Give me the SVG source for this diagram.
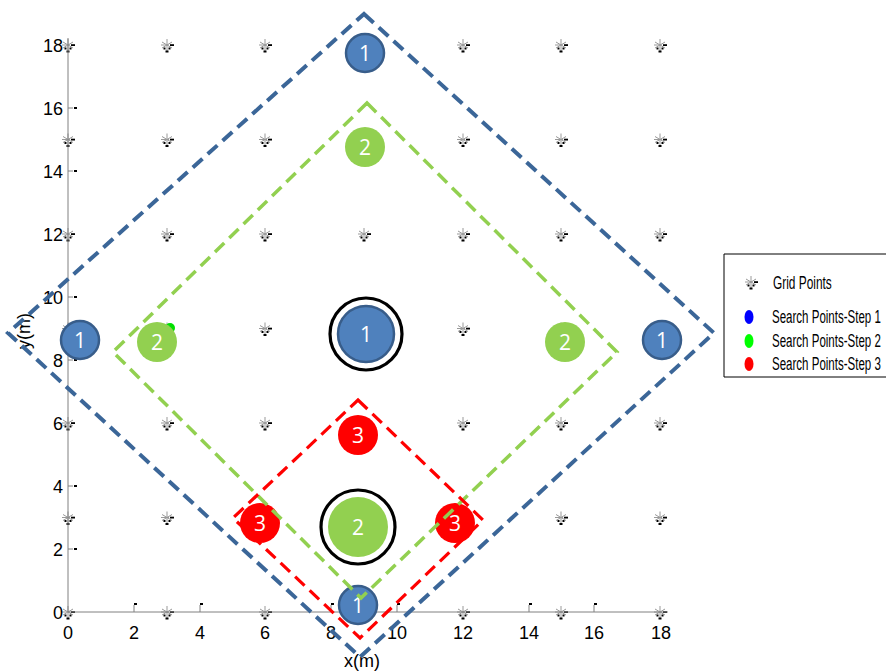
<svg xmlns="http://www.w3.org/2000/svg" xmlns:xlink="http://www.w3.org/1999/xlink" width="886" height="671" viewBox="0 0 886 671">
<style>
.ax{stroke:#808080;stroke-width:1;fill:none}
.tk{font-family:"Liberation Sans",Arial,sans-serif;font-size:18px;fill:#000}
.lg{font-family:"Liberation Sans",Arial,sans-serif;font-size:18px;fill:#000}
.lbl{font-family:"Open Sans","Liberation Sans",sans-serif;font-size:21px;fill:#fff;text-anchor:middle}
.s1{fill:#4f81bd;stroke:#385d8a;stroke-width:2.5}
.s2{fill:#92d050}
.s3{fill:#ff0000}
.ring{fill:none;stroke:#000;stroke-width:3.2}
.d1{fill:none;stroke:#3b6698;stroke-width:4;stroke-dasharray:13 7}
.d2{fill:none;stroke:#92d050;stroke-width:3.5;stroke-dasharray:13 7}
.d3{fill:none;stroke:#ff0000;stroke-width:3.2;stroke-dasharray:13 7}
</style>
<defs>
<g id="gp">
<path d="M0,-6V6M-5,-3L5,3M-5,3L5,-3M-6,0H2" stroke="#999" stroke-width="1" fill="none"/>
<rect x="3" y="-0.8" width="4" height="1.8" fill="#000"/>
<rect x="-3.5" y="2.5" width="2" height="2" fill="#000"/>
<rect x="1.5" y="2.5" width="2" height="2" fill="#000"/>
<rect x="-1.5" y="5.5" width="3" height="2" fill="#000"/>
</g>
</defs>
<rect width="886" height="671" fill="#fff"/>
<g id="grid">
<use xlink:href="#gp" x="68" y="612"/><use xlink:href="#gp" x="167" y="612"/><use xlink:href="#gp" x="265" y="612"/><use xlink:href="#gp" x="364" y="612"/><use xlink:href="#gp" x="463" y="612"/><use xlink:href="#gp" x="561" y="612"/><use xlink:href="#gp" x="660" y="612"/>
<use xlink:href="#gp" x="68" y="517.5"/><use xlink:href="#gp" x="167" y="517.5"/><use xlink:href="#gp" x="265" y="517.5"/><use xlink:href="#gp" x="364" y="517.5"/><use xlink:href="#gp" x="463" y="517.5"/><use xlink:href="#gp" x="561" y="517.5"/><use xlink:href="#gp" x="660" y="517.5"/>
<use xlink:href="#gp" x="68" y="423"/><use xlink:href="#gp" x="167" y="423"/><use xlink:href="#gp" x="265" y="423"/><use xlink:href="#gp" x="364" y="423"/><use xlink:href="#gp" x="463" y="423"/><use xlink:href="#gp" x="561" y="423"/><use xlink:href="#gp" x="660" y="423"/>
<use xlink:href="#gp" x="68" y="328.5"/><use xlink:href="#gp" x="167" y="328.5"/><use xlink:href="#gp" x="265" y="328.5"/><use xlink:href="#gp" x="364" y="328.5"/><use xlink:href="#gp" x="463" y="328.5"/><use xlink:href="#gp" x="561" y="328.5"/><use xlink:href="#gp" x="660" y="328.5"/>
<use xlink:href="#gp" x="68" y="234"/><use xlink:href="#gp" x="167" y="234"/><use xlink:href="#gp" x="265" y="234"/><use xlink:href="#gp" x="364" y="234"/><use xlink:href="#gp" x="463" y="234"/><use xlink:href="#gp" x="561" y="234"/><use xlink:href="#gp" x="660" y="234"/>
<use xlink:href="#gp" x="68" y="139.5"/><use xlink:href="#gp" x="167" y="139.5"/><use xlink:href="#gp" x="265" y="139.5"/><use xlink:href="#gp" x="364" y="139.5"/><use xlink:href="#gp" x="463" y="139.5"/><use xlink:href="#gp" x="561" y="139.5"/><use xlink:href="#gp" x="660" y="139.5"/>
<use xlink:href="#gp" x="68" y="45"/><use xlink:href="#gp" x="167" y="45"/><use xlink:href="#gp" x="265" y="45"/><use xlink:href="#gp" x="364" y="45"/><use xlink:href="#gp" x="463" y="45"/><use xlink:href="#gp" x="561" y="45"/><use xlink:href="#gp" x="660" y="45"/>
</g>
<g id="axes">
<path class="ax" d="M68,38V612H668"/>
<path class="ax" d="M68,549H73M68,486H73M68,360H73M68,297H73M68,171H73M68,108H73"/>
<g fill="#000"><rect x="74" y="548" width="3" height="2"/><rect x="74" y="485" width="3" height="2"/><rect x="74" y="359" width="3" height="2"/><rect x="74" y="296" width="3" height="2"/><rect x="74" y="170" width="3" height="2"/><rect x="74" y="107" width="3" height="2"/></g>
<path class="ax" d="M134,612V605M200,612V605M331,612V605M397,612V605M529,612V605M594,612V605"/>
<g fill="#000"><rect x="134" y="603" width="3" height="2"/><rect x="200" y="603" width="3" height="2"/><rect x="331" y="603" width="3" height="2"/><rect x="397" y="603" width="3" height="2"/><rect x="529" y="603" width="3" height="2"/><rect x="594" y="603" width="3" height="2"/></g>
<g class="tk" text-anchor="end">
<text x="63" y="52">18</text><text x="63" y="115">16</text><text x="63" y="178">14</text><text x="63" y="241">12</text><text x="63" y="304">10</text><text x="63" y="367">8</text><text x="63" y="430">6</text><text x="63" y="493">4</text><text x="63" y="556">2</text><text x="63" y="619">0</text>
</g>
<g class="tk" text-anchor="middle">
<text x="68" y="639">0</text><text x="134" y="639">2</text><text x="200" y="639">4</text><text x="265" y="639">6</text><text x="331" y="639">8</text><text x="397" y="639">10</text><text x="463" y="639">12</text><text x="529" y="639">14</text><text x="594" y="639">16</text><text x="661" y="639">18</text>
</g>
<text class="tk" x="362" y="667" text-anchor="middle">x(m)</text>
<text class="tk" transform="translate(30,331) rotate(-90)" text-anchor="middle">y(m)</text>
</g>
<g id="nodes">
<circle cx="170" cy="328" r="5" fill="#00e000"/>
<g id="s1-top"><circle class="s1" cx="365" cy="53" r="19"/><text class="lbl" x="365" y="61">1</text></g>
<g id="s1-left"><circle class="s1" cx="80" cy="340" r="19"/><text class="lbl" x="80" y="348">1</text></g>
<g id="s1-right"><circle class="s1" cx="662" cy="340" r="19"/><text class="lbl" x="662" y="348">1</text></g>
<g id="s1-bottom"><circle class="s1" cx="358" cy="605" r="19"/><text class="lbl" x="358" y="613">1</text></g>
<g id="s1-center"><circle class="ring" cx="366" cy="334" r="36"/><circle class="s1" cx="366" cy="334" r="28"/><text class="lbl" x="366" y="342">1</text></g>
<g id="s2-top"><circle class="s2" cx="365" cy="147" r="20"/><text class="lbl" x="365" y="155">2</text></g>
<g id="s2-left"><circle class="s2" cx="157" cy="342" r="20"/><text class="lbl" x="157" y="350">2</text></g>
<g id="s2-right"><circle class="s2" cx="565" cy="342" r="20"/><text class="lbl" x="565" y="350">2</text></g>
<g id="s2-center"><circle class="ring" cx="358" cy="527" r="37"/><circle class="s2" cx="358" cy="527" r="30"/><text class="lbl" x="358" y="535">2</text></g>
<g id="s3-top"><circle class="s3" cx="358" cy="435" r="20"/><text class="lbl" x="358" y="443">3</text></g>
<g id="s3-left"><circle class="s3" cx="260" cy="523" r="20"/><text class="lbl" x="260" y="531">3</text></g>
<g id="s3-right"><circle class="s3" cx="455" cy="523" r="20"/><text class="lbl" x="455" y="531">3</text></g>
</g>
<g id="connectors">
<path class="d1" d="M364,14L714,333L360,657L8,333Z"/>
<path class="d2" d="M367,103L617,352L361,598L113,352Z"/>
<path class="d3" d="M358,400L483,520L360,638L233,518Z"/>
</g>
<g id="legend">
<path d="M886,254H724V377H886" fill="#fff" stroke="#000" stroke-width="1"/>
<use xlink:href="#gp" x="751" y="282"/>
<ellipse cx="749" cy="317" rx="4.5" ry="7" fill="#0000ff"/>
<ellipse cx="749" cy="341" rx="4.5" ry="7" fill="#00ff00"/>
<ellipse cx="749" cy="364" rx="4.5" ry="7" fill="#ff0000"/>
<text class="lg" transform="translate(773,289) scale(0.66,1)">Grid Points</text>
<text class="lg" transform="translate(772,323) scale(0.64,1)">Search Points-Step 1</text>
<text class="lg" transform="translate(772,347) scale(0.64,1)">Search Points-Step 2</text>
<text class="lg" transform="translate(772,370) scale(0.64,1)">Search Points-Step 3</text>
</g>
</svg>
